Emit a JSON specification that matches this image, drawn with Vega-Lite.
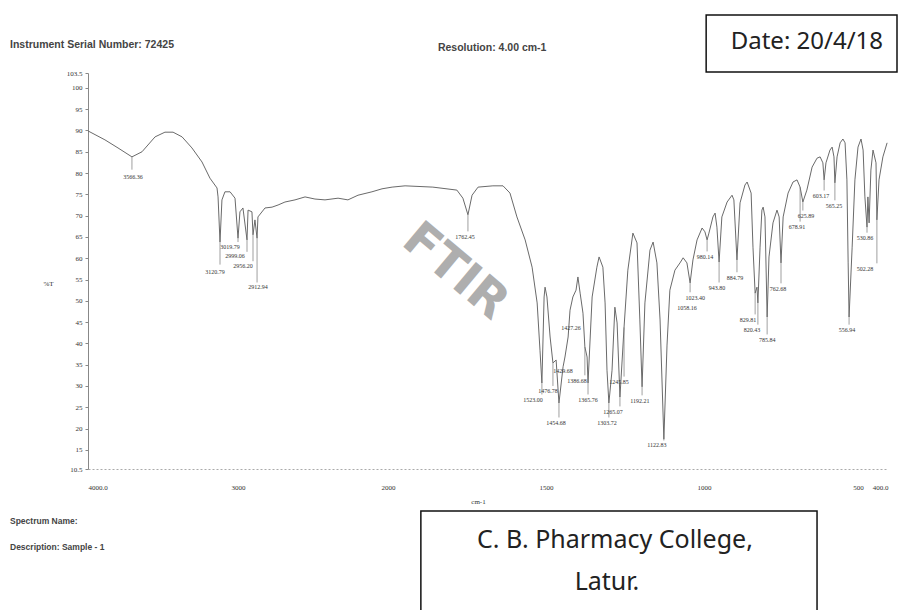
{
  "$schema": "https://vega.github.io/schema/vega-lite/v6.json",
  "width": 800,
  "height": 396,
  "autosize": {"type": "none"},
  "padding": {"left": 88, "top": 73, "right": 12, "bottom": 141},
  "background": "white",
  "config": {"view": {"stroke": null}, "font": "Liberation Sans"},
  "datasets": {
    "spectrum": [
      {"wn":4000,"t":89.9},{"wn":3887,"t":87.8},{"wn":3800,"t":85.9},{"wn":3707,"t":83.8},{"wn":3640,"t":85.0},{"wn":3553,"t":88.5},{"wn":3487,"t":89.6},{"wn":3433,"t":89.6},{"wn":3373,"t":88.5},{"wn":3307,"t":85.9},{"wn":3240,"t":82.6},{"wn":3187,"t":78.8},{"wn":3140,"t":76.5},{"wn":3133,"t":74.4},{"wn":3120,"t":63.8},{"wn":3107,"t":73.7},{"wn":3087,"t":75.6},{"wn":3053,"t":75.6},{"wn":3020,"t":74.1},{"wn":3000,"t":64.7},{"wn":2987,"t":70.9},{"wn":2967,"t":71.8},{"wn":2940,"t":64.3},{"wn":2933,"t":71.3},{"wn":2907,"t":70.9},{"wn":2900,"t":65.5},{"wn":2887,"t":69.0},{"wn":2873,"t":64.7},{"wn":2867,"t":69.7},{"wn":2820,"t":71.8},{"wn":2773,"t":72.0},{"wn":2733,"t":72.5},{"wn":2687,"t":73.2},{"wn":2620,"t":73.7},{"wn":2553,"t":74.4},{"wn":2487,"t":73.9},{"wn":2420,"t":73.7},{"wn":2333,"t":74.1},{"wn":2267,"t":73.7},{"wn":2200,"t":74.8},{"wn":2107,"t":75.6},{"wn":2040,"t":76.3},{"wn":1987,"t":76.7},{"wn":1946,"t":77.0},{"wn":1858,"t":76.7},{"wn":1782,"t":76.0},{"wn":1763,"t":74.1},{"wn":1747,"t":70.2},{"wn":1734,"t":74.8},{"wn":1715,"t":76.7},{"wn":1668,"t":77.0},{"wn":1636,"t":77.0},{"wn":1614,"t":75.3},{"wn":1592,"t":69.7},{"wn":1566,"t":64.3},{"wn":1544,"t":57.9},{"wn":1528,"t":49.5},{"wn":1519,"t":38.4},{"wn":1513,"t":30.7},{"wn":1506,"t":50.9},{"wn":1503,"t":53.2},{"wn":1497,"t":50.9},{"wn":1487,"t":41.5},{"wn":1478,"t":35.4},{"wn":1468,"t":36.1},{"wn":1459,"t":26.0},{"wn":1446,"t":34.5},{"wn":1440,"t":36.8},{"wn":1430,"t":41.5},{"wn":1424,"t":47.8},{"wn":1415,"t":50.9},{"wn":1405,"t":52.5},{"wn":1399,"t":55.6},{"wn":1392,"t":51.8},{"wn":1383,"t":47.1},{"wn":1377,"t":39.2},{"wn":1370,"t":36.8},{"wn":1367,"t":30.7},{"wn":1354,"t":50.9},{"wn":1339,"t":57.9},{"wn":1332,"t":60.3},{"wn":1320,"t":57.9},{"wn":1313,"t":49.5},{"wn":1307,"t":33.7},{"wn":1301,"t":26.0},{"wn":1291,"t":33.7},{"wn":1282,"t":48.5},{"wn":1275,"t":44.8},{"wn":1266,"t":27.4},{"wn":1259,"t":36.1},{"wn":1253,"t":43.8},{"wn":1241,"t":57.2},{"wn":1225,"t":65.9},{"wn":1212,"t":63.6},{"wn":1203,"t":45.5},{"wn":1196,"t":29.8},{"wn":1187,"t":49.5},{"wn":1171,"t":61.9},{"wn":1161,"t":63.8},{"wn":1149,"t":58.9},{"wn":1139,"t":45.5},{"wn":1127,"t":17.5},{"wn":1117,"t":39.6},{"wn":1108,"t":52.5},{"wn":1092,"t":57.2},{"wn":1076,"t":58.9},{"wn":1066,"t":60.1},{"wn":1054,"t":58.9},{"wn":1044,"t":54.2},{"wn":1035,"t":59.6},{"wn":1022,"t":64.3},{"wn":1006,"t":67.1},{"wn":997,"t":66.2},{"wn":990,"t":64.3},{"wn":984,"t":65.9},{"wn":971,"t":69.7},{"wn":964,"t":70.6},{"wn":958,"t":67.3},{"wn":951,"t":59.1},{"wn":942,"t":69.7},{"wn":925,"t":73.2},{"wn":909,"t":74.8},{"wn":903,"t":73.7},{"wn":893,"t":59.6},{"wn":883,"t":73.0},{"wn":867,"t":77.2},{"wn":860,"t":77.9},{"wn":847,"t":75.3},{"wn":841,"t":62.6},{"wn":834,"t":51.8},{"wn":828,"t":53.2},{"wn":825,"t":49.5},{"wn":818,"t":62.6},{"wn":812,"t":71.3},{"wn":808,"t":72.0},{"wn":802,"t":69.7},{"wn":795,"t":46.2},{"wn":789,"t":60.3},{"wn":776,"t":68.3},{"wn":763,"t":71.3},{"wn":756,"t":69.7},{"wn":750,"t":58.9},{"wn":743,"t":69.7},{"wn":727,"t":75.3},{"wn":711,"t":77.9},{"wn":698,"t":78.4},{"wn":688,"t":76.7},{"wn":679,"t":73.2},{"wn":666,"t":76.0},{"wn":649,"t":81.4},{"wn":633,"t":83.5},{"wn":623,"t":83.8},{"wn":614,"t":82.4},{"wn":610,"t":78.4},{"wn":604,"t":82.4},{"wn":591,"t":85.4},{"wn":584,"t":86.1},{"wn":578,"t":83.8},{"wn":575,"t":77.7},{"wn":568,"t":83.8},{"wn":558,"t":87.1},{"wn":549,"t":88.0},{"wn":542,"t":87.1},{"wn":536,"t":78.4},{"wn":532,"t":58.9},{"wn":529,"t":46.2},{"wn":519,"t":62.6},{"wn":510,"t":78.4},{"wn":500,"t":86.1},{"wn":490,"t":88.0},{"wn":483,"t":85.4},{"wn":477,"t":74.4},{"wn":470,"t":67.3},{"wn":467,"t":74.4},{"wn":463,"t":68.3},{"wn":457,"t":80.7},{"wn":450,"t":85.4},{"wn":440,"t":82.4},{"wn":437,"t":69.0},{"wn":430,"t":78.4},{"wn":417,"t":83.8},{"wn":403,"t":87.1}
    ],
    "leaders": [
      {"lx":3707,"y1":83.8,"y2":80.8},{"lx":3120,"y1":63.8,"y2":58.5},{"lx":3000,"y1":64.7,"y2":63.8},{"lx":2940,"y1":64.3,"y2":61.5},{"lx":2900,"y1":65.5,"y2":59.3},{"lx":2873,"y1":64.7,"y2":54.3},{"lx":1747,"y1":70.2,"y2":66.3},{"lx":1513,"y1":30.7,"y2":28.0},{"lx":1478,"y1":35.4,"y2":30.0},{"lx":1459,"y1":26.0,"y2":22.6},{"lx":1377,"y1":39.2,"y2":32.5},{"lx":1367,"y1":30.7,"y2":28.0},{"lx":1301,"y1":26.0,"y2":22.6},{"lx":1266,"y1":27.4,"y2":25.2},{"lx":1253,"y1":43.8,"y2":32.2},{"lx":1196,"y1":29.8,"y2":27.8},{"lx":1127,"y1":17.5,"y2":17.2},{"lx":1044,"y1":54.2,"y2":52.0},{"lx":990,"y1":64.3,"y2":61.6},{"lx":951,"y1":59.1,"y2":54.3},{"lx":893,"y1":59.6,"y2":56.7},{"lx":834,"y1":51.8,"y2":46.8},{"lx":825,"y1":49.5,"y2":44.4},{"lx":795,"y1":46.2,"y2":42.1},{"lx":750,"y1":58.9,"y2":54.1},{"lx":688,"y1":76.7,"y2":68.6},{"lx":679,"y1":73.2,"y2":71.2},{"lx":610,"y1":78.4,"y2":75.9},{"lx":575,"y1":77.7,"y2":73.6},{"lx":529,"y1":46.2,"y2":44.4},{"lx":470,"y1":67.3,"y2":66.0},{"lx":437,"y1":69.0,"y2":58.8}
    ],
    "peaks": [
      {"label":"3566.36","tx":3700,"ty":79.1},{"label":"3120.79","tx":3153,"ty":56.8},{"label":"3019.79","tx":3053,"ty":62.6},{"label":"2999.06","tx":3020,"ty":60.5},{"label":"2956.20","tx":2967,"ty":58.2},{"label":"2912.94","tx":2867,"ty":53.2},{"label":"1762.45","tx":1756,"ty":65.0},{"label":"1523.00","tx":1541,"ty":26.7},{"label":"1476.78","tx":1494,"ty":28.8},{"label":"1454.68","tx":1468,"ty":21.3},{"label":"1429.68","tx":1446,"ty":33.5},{"label":"1427.26","tx":1421,"ty":43.6},{"label":"1386.68","tx":1402,"ty":31.2},{"label":"1365.76","tx":1367,"ty":26.7},{"label":"1303.72","tx":1307,"ty":21.3},{"label":"1265.07","tx":1288,"ty":23.9},{"label":"1245.85","tx":1269,"ty":30.9},{"label":"1192.21","tx":1203,"ty":26.5},{"label":"1122.83","tx":1149,"ty":16.1},{"label":"1023.40","tx":1028,"ty":50.7},{"label":"1058.16","tx":1054,"ty":48.3},{"label":"980.14","tx":997,"ty":60.3},{"label":"943.80","tx":958,"ty":53.0},{"label":"884.79","tx":899,"ty":55.4},{"label":"829.81","tx":857,"ty":45.5},{"label":"820.43","tx":844,"ty":43.1},{"label":"785.84","tx":795,"ty":40.8},{"label":"762.68","tx":760,"ty":52.8},{"label":"678.91","tx":698,"ty":67.3},{"label":"625.89","tx":669,"ty":69.9},{"label":"603.17","tx":620,"ty":74.6},{"label":"565.25","tx":578,"ty":72.3},{"label":"556.94","tx":536,"ty":43.1},{"label":"530.86","tx":477,"ty":64.7},{"label":"502.28","tx":477,"ty":57.5}
    ],
    "boxes": [
      {"x1":993,"x2":370,"y1":117.1,"y2":103.74},
      {"x1":1896,"x2":633,"y1":0.63,"y2":-24}
    ],
    "topnotes": [
      {"text":"Instrument Serial Number: 72425","nx":4520,"ny":110.1},
      {"text":"Resolution: 4.00 cm-1","nx":1842,"ny":109.4}
    ],
    "bottomnotes": [
      {"text":"Spectrum Name:","nx":4520,"ny":-1.7},
      {"text":"Description: Sample - 1","nx":4520,"ny":-7.8}
    ],
    "datenote": [
      {"text":"Date: 20/4/18","nx":666,"ny":110.8}
    ],
    "college": [
      {"text":"C. B. Pharmacy College,","nx":1282,"ny":-6.2},
      {"text":"Latur.","nx":1307,"ny":-16.0}
    ],
    "watermark": [{"text":"FTIR","nx":1788,"ny":56.8}]
  },
  "layer": [
    {
      "data": {"name": "spectrum"},
      "mark": {"type": "line", "color": "#6a6a6a", "strokeWidth": 1},
      "encoding": {
        "x": {"field": "wn", "type": "quantitative", "sort": null,
          "scale": {"domain": [4000, 2000, 1000, 500, 400], "range": [0, 300, 616, 770, 800], "nice": false, "zero": false},
          "axis": {"values": [4000, 3000, 2000, 1500, 1000, 500, 400], "tickCount": 50, "labelExpr": "datum.value == 4000 ? '4000.0' : (datum.value == 400 ? '400.0' : format(datum.value, 'd'))", "title": "cm-1", "titleFontSize": 7, "titleFontWeight": "normal", "titleColor": "#333", "titleX": 390, "titleY": 28, "titleFont": "Liberation Serif", "labelFont": "Liberation Serif", "labelFontSize": 7, "labelColor": "#333", "labelPadding": 14, "domainColor": "#aaaaaa", "domainDash": [2, 2], "ticks": false, "grid": false, "labelOverlap": false}},
        "y": {"field": "t", "type": "quantitative",
          "scale": {"domain": [10.5, 103.5], "nice": false, "zero": false},
          "axis": {"values": [10.5, 15, 20, 25, 30, 35, 40, 45, 50, 55, 60, 65, 70, 75, 80, 85, 90, 95, 100, 103.5], "tickCount": 50, "format": ".4~g", "title": "%T", "titleAngle": 0, "titleX": -40, "titleY": 210, "titleAlign": "center", "titleBaseline": "middle", "titleFontSize": 7, "titleFontWeight": "normal", "titleFont": "Liberation Serif", "titleColor": "#333", "labelFont": "Liberation Serif", "labelFontSize": 7, "labelColor": "#333", "labelPadding": 3, "tickSize": 3, "tickColor": "#888", "domainColor": "#888", "grid": false, "labelOverlap": false}}
      }
    },
    {
      "data": {"name": "watermark"},
      "mark": {"type": "text", "angle": 40, "fontSize": 48, "fontWeight": "bold", "font": "DejaVu Sans", "color": "#a0a0a0", "opacity": 0.85, "align": "center", "baseline": "middle"},
      "encoding": {
        "x": {"field": "nx", "type": "quantitative"},
        "y": {"field": "ny", "type": "quantitative"},
        "text": {"field": "text"}
      }
    },
    {
      "data": {"name": "leaders"},
      "mark": {"type": "rule", "color": "#777", "strokeWidth": 0.7},
      "encoding": {
        "x": {"field": "lx", "type": "quantitative"},
        "y": {"field": "y1", "type": "quantitative"},
        "y2": {"field": "y2"}
      }
    },
    {
      "data": {"name": "peaks"},
      "mark": {"type": "text", "fontSize": 6, "font": "Liberation Serif", "color": "#333", "align": "center", "baseline": "middle"},
      "encoding": {
        "x": {"field": "tx", "type": "quantitative"},
        "y": {"field": "ty", "type": "quantitative"},
        "text": {"field": "label"}
      }
    },
    {
      "data": {"name": "boxes"},
      "mark": {"type": "rect", "fill": "white", "stroke": "#111", "strokeWidth": 1.5},
      "encoding": {
        "x": {"field": "x1", "type": "quantitative"},
        "x2": {"field": "x2"},
        "y": {"field": "y1", "type": "quantitative"},
        "y2": {"field": "y2"}
      }
    },
    {
      "data": {"name": "topnotes"},
      "mark": {"type": "text", "fontSize": 10.5, "fontWeight": "bold", "font": "Liberation Sans", "color": "#444", "align": "left", "baseline": "middle"},
      "encoding": {
        "x": {"field": "nx", "type": "quantitative"},
        "y": {"field": "ny", "type": "quantitative"},
        "text": {"field": "text"}
      }
    },
    {
      "data": {"name": "bottomnotes"},
      "mark": {"type": "text", "fontSize": 8.5, "fontWeight": "bold", "font": "Liberation Sans", "color": "#444", "align": "left", "baseline": "middle"},
      "encoding": {
        "x": {"field": "nx", "type": "quantitative"},
        "y": {"field": "ny", "type": "quantitative"},
        "text": {"field": "text"}
      }
    },
    {
      "data": {"name": "datenote"},
      "mark": {"type": "text", "fontSize": 24, "font": "Noto Sans", "color": "#222", "align": "center", "baseline": "middle"},
      "encoding": {
        "x": {"field": "nx", "type": "quantitative"},
        "y": {"field": "ny", "type": "quantitative"},
        "text": {"field": "text"}
      }
    },
    {
      "data": {"name": "college"},
      "mark": {"type": "text", "fontSize": 25, "font": "Noto Sans", "color": "#222", "align": "center", "baseline": "middle"},
      "encoding": {
        "x": {"field": "nx", "type": "quantitative"},
        "y": {"field": "ny", "type": "quantitative"},
        "text": {"field": "text"}
      }
    }
  ]
}
